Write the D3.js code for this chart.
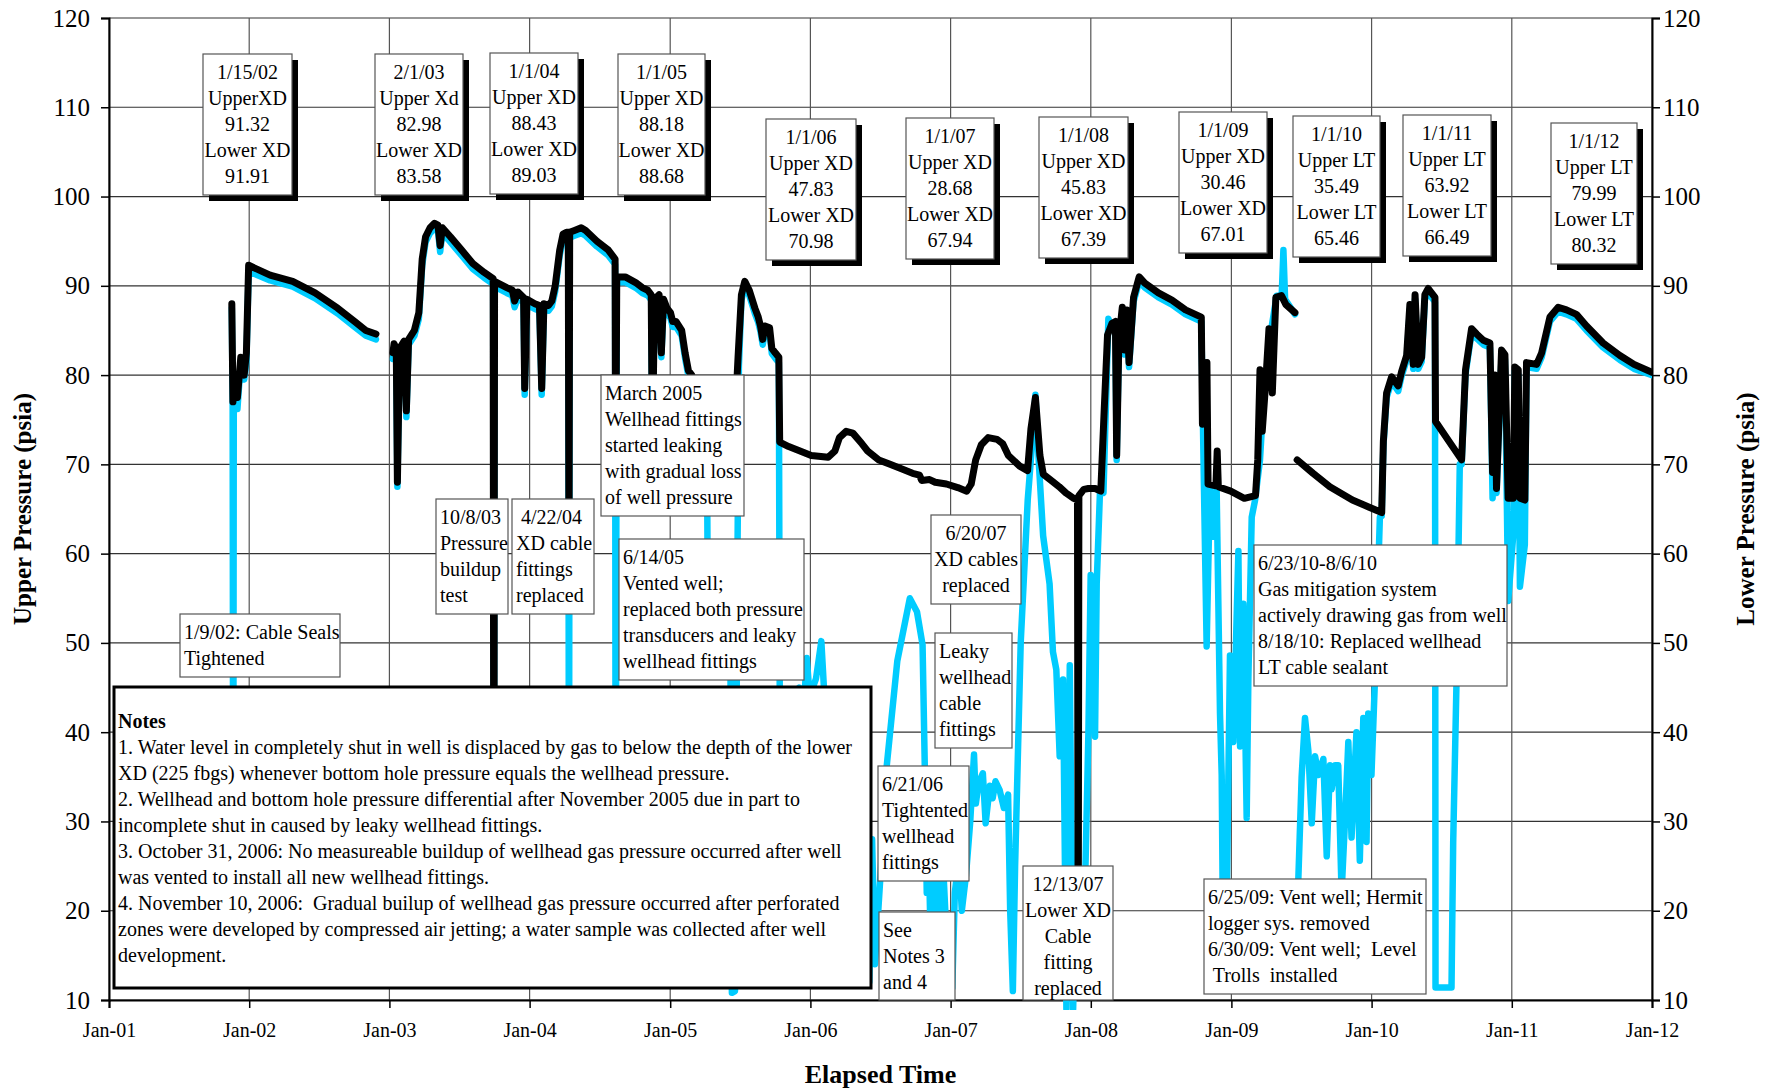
<!DOCTYPE html>
<html>
<head>
<meta charset="utf-8">
<script src="https://cdn.jsdelivr.net/npm/d3@7"></script>
<style>
  body { margin: 0; background: #fff; }
  svg { font-family: "Liberation Serif", "Times New Roman", serif; }
  text { white-space: pre; }
</style>
</head>
<body>
<svg id="chart" width="1767" height="1089"></svg>
<script>
// axis ticks
const yTicks = d3.range(10, 121, 10);
const xYears = d3.range(2001, 2013);

// Lower pressure (black), [decimal year, psia]; null = gap in record
const lowerXD = [
  [2001.876, 88.0], [2001.884, 77.0], [2001.900, 80.0], [2001.916, 77.5], [2001.940, 82.0], [2001.964, 80.0],
  [2001.980, 82.5], [2001.996, 92.3], [2002.149, 91.2], [2002.310, 90.5], [2002.470, 89.2], [2002.631, 87.5],
  [2002.752, 86.0], [2002.832, 85.0], [2002.904, 84.6],
  [2002.950, null],
  [2003.025, 82.5], [2003.033, 83.5], [2003.049, 83.0], [2003.057, 68.0], [2003.073, 83.0], [2003.105, 83.8],
  [2003.121, 76.0], [2003.137, 84.0], [2003.178, 85.0], [2003.210, 87.0], [2003.234, 93.0], [2003.258, 95.5],
  [2003.290, 96.5], [2003.322, 97.0], [2003.346, 96.8], [2003.362, 94.5], [2003.378, 96.5], [2003.435, 95.5],
  [2003.515, 94.0], [2003.595, 92.5], [2003.676, 91.5], [2003.740, 90.8], [2003.745, 15.0], [2003.750, 90.5],
  [2003.837, 89.8], [2003.877, 89.5], [2003.893, 88.3], [2003.917, 89.3], [2003.957, 88.7], [2003.965, 78.5],
  [2003.981, 88.5], [2004.037, 88.0], [2004.070, 87.8], [2004.086, 78.5], [2004.102, 88.0], [2004.134, 87.8],
  [2004.158, 88.3], [2004.182, 90.0], [2004.214, 94.0], [2004.238, 95.8], [2004.262, 96.0], [2004.275, 96.0],
  [2004.280, 58.0], [2004.285, 96.0], [2004.319, 96.2], [2004.367, 96.5], [2004.399, 96.2], [2004.479, 95.0],
  [2004.560, 94.0], [2004.608, 93.0], [2004.612, 66.0], [2004.620, 91.0], [2004.680, 91.0], [2004.761, 90.3],
  [2004.801, 89.8], [2004.841, 89.5], [2004.865, 89.0], [2004.873, 72.0], [2004.889, 88.5], [2004.921, 89.0],
  [2004.937, 82.5], [2004.953, 88.5], [2004.977, 87.5], [2005.002, 87.0], [2005.018, 86.0], [2005.042, 86.0],
  [2005.082, 85.0], [2005.106, 82.5], [2005.130, 80.5], [2005.154, 80.0], [2005.178, 76.0], [2005.300, 70.0],
  [2005.440, 68.0], [2005.484, 82.0], [2005.508, 89.0], [2005.532, 90.5], [2005.564, 89.5], [2005.604, 87.5],
  [2005.628, 86.5], [2005.644, 85.5], [2005.660, 84.0], [2005.676, 85.5], [2005.709, 85.3], [2005.725, 83.0],
  [2005.749, 82.5], [2005.775, 82.0], [2005.781, 72.5], [2005.845, 72.0], [2005.926, 71.5], [2006.006, 71.0],
  [2006.127, 70.8], [2006.175, 71.5], [2006.207, 73.0], [2006.255, 73.7], [2006.303, 73.5], [2006.368, 72.3],
  [2006.408, 71.5], [2006.488, 70.5], [2006.568, 70.0], [2006.649, 69.5], [2006.729, 69.0], [2006.778, 68.8],
  [2006.794, 68.2], [2006.850, 68.3], [2006.890, 68.0], [2006.970, 67.8], [2007.051, 67.4], [2007.115, 67.0],
  [2007.147, 67.8], [2007.179, 70.5], [2007.219, 72.2], [2007.268, 73.0], [2007.332, 72.8], [2007.372, 72.3],
  [2007.412, 71.0], [2007.493, 69.8], [2007.549, 69.3], [2007.573, 74.0], [2007.605, 77.5], [2007.637, 71.0],
  [2007.661, 68.9], [2007.709, 68.3], [2007.774, 67.5], [2007.822, 66.8], [2007.878, 66.2], [2007.905, 66.0],
  [2007.910, 11.5], [2007.915, 66.5], [2007.950, 67.2], [2007.983, 67.3], [2008.031, 67.3], [2008.071, 67.0],
  [2008.095, 76.0], [2008.119, 84.5], [2008.151, 85.8], [2008.175, 86.0], [2008.184, 71.0], [2008.200, 84.0],
  [2008.224, 87.6], [2008.240, 82.8], [2008.256, 87.3], [2008.272, 81.4], [2008.304, 88.7], [2008.344, 91.0],
  [2008.384, 90.3], [2008.481, 89.2], [2008.577, 88.4], [2008.674, 87.3], [2008.786, 86.5], [2008.794, 74.5],
  [2008.826, 81.4], [2008.834, 67.8], [2008.890, 67.6], [2008.899, 71.5], [2008.907, 67.5], [2008.995, 67.0],
  [2009.092, 66.2], [2009.172, 66.5], [2009.188, 70.5], [2009.204, 80.6], [2009.220, 73.7], [2009.244, 79.0],
  [2009.268, 85.2], [2009.292, 78.0], [2009.317, 88.7], [2009.357, 88.9], [2009.389, 87.9], [2009.453, 87.0],
  [2009.460, null],
  [2009.469, 70.5], [2009.582, 69.0], [2009.702, 67.5], [2009.863, 66.0], [2009.983, 65.2], [2010.072, 64.6],
  [2010.084, 72.6], [2010.107, 78.0], [2010.143, 79.8], [2010.190, 78.8], [2010.214, 80.4], [2010.250, 82.2],
  [2010.273, 87.9], [2010.297, 81.2], [2010.310, 89.0], [2010.333, 81.2], [2010.357, 82.0], [2010.380, 89.0],
  [2010.404, 89.7], [2010.452, 88.7], [2010.456, 74.8], [2010.642, 70.5], [2010.670, 80.6], [2010.713, 85.2],
  [2010.749, 84.6], [2010.797, 83.9], [2010.844, 83.6], [2010.863, 69.1], [2010.879, 80.0], [2010.891, 67.3],
  [2010.927, 82.8], [2010.951, 82.3], [2010.974, 66.2], [2011.010, 66.2], [2011.022, 80.9], [2011.046, 80.6],
  [2011.058, 66.2], [2011.093, 66.0], [2011.105, 81.4], [2011.177, 81.2], [2011.213, 82.5], [2011.272, 86.5],
  [2011.331, 87.6], [2011.390, 87.3], [2011.461, 86.8], [2011.533, 85.5], [2011.651, 83.6], [2011.771, 82.2],
  [2011.872, 81.2], [2012.000, 80.3]
];

// Upper pressure (cyan)
const upperXD = [
  [2001.876, 87.5], [2001.882, 76.5], [2001.886, 20.0], [2001.890, 76.5], [2001.900, 79.5], [2001.916, 76.2],
  [2001.940, 81.5], [2001.964, 79.5], [2001.980, 81.5], [2001.996, 91.6], [2002.149, 90.6], [2002.310, 89.9],
  [2002.470, 88.6], [2002.631, 86.9], [2002.752, 85.4], [2002.832, 84.4], [2002.904, 84.0],
  [2002.950, null],
  [2003.025, 81.8], [2003.033, 82.9], [2003.049, 82.4], [2003.057, 67.5], [2003.073, 82.4], [2003.105, 83.2],
  [2003.121, 75.3], [2003.137, 83.4], [2003.178, 84.4], [2003.210, 86.3], [2003.234, 92.3], [2003.258, 94.9],
  [2003.290, 95.9], [2003.322, 96.4], [2003.346, 96.2], [2003.362, 93.8], [2003.378, 95.9], [2003.435, 94.9],
  [2003.515, 93.4], [2003.595, 91.9], [2003.676, 90.9], [2003.740, 90.2], [2003.745, 15.0], [2003.750, 89.9],
  [2003.837, 89.2], [2003.877, 88.9], [2003.893, 87.6], [2003.917, 88.7], [2003.957, 88.1], [2003.965, 77.8],
  [2003.981, 87.9], [2004.037, 87.4], [2004.070, 87.2], [2004.086, 77.8], [2004.102, 87.4], [2004.134, 87.2],
  [2004.158, 87.7], [2004.182, 89.4], [2004.214, 93.4], [2004.238, 95.2], [2004.262, 95.4], [2004.275, 95.4],
  [2004.280, 20.0], [2004.285, 95.4], [2004.319, 95.6], [2004.367, 95.9], [2004.399, 95.6], [2004.479, 94.4],
  [2004.560, 93.4], [2004.608, 92.4], [2004.612, 20.0], [2004.620, 90.4], [2004.680, 90.4], [2004.761, 89.7],
  [2004.801, 89.2], [2004.841, 88.9], [2004.865, 88.4], [2004.873, 71.0], [2004.889, 87.9], [2004.921, 88.4],
  [2004.937, 82.0], [2004.953, 87.9], [2004.977, 86.9], [2005.002, 86.4], [2005.018, 85.4], [2005.042, 85.4],
  [2005.082, 84.4], [2005.106, 81.9], [2005.130, 79.9], [2005.154, 79.4], [2005.178, 75.4], [2005.230, 73.0],
  [2005.262, 72.0], [2005.270, 50.0], [2005.330, 48.0], [2005.430, 47.0], [2005.440, 10.8], [2005.462, 11.0],
  [2005.480, 60.0], [2005.490, 81.0], [2005.508, 88.4], [2005.532, 89.9], [2005.564, 88.9], [2005.604, 86.9],
  [2005.628, 85.9], [2005.644, 84.9], [2005.660, 83.4], [2005.676, 84.9], [2005.709, 84.7], [2005.725, 82.4],
  [2005.749, 81.9], [2005.775, 81.4], [2005.782, 40.0], [2005.840, 43.0], [2005.920, 45.0], [2005.950, 42.0],
  [2005.974, 48.3], [2005.995, 44.0], [2006.040, 46.0], [2006.078, 50.2], [2006.100, 44.0], [2006.140, 28.0],
  [2006.220, 18.0], [2006.320, 14.0], [2006.420, 12.0], [2006.440, 28.0], [2006.460, 14.0], [2006.500, 24.0],
  [2006.543, 36.0], [2006.620, 48.0], [2006.709, 55.0], [2006.760, 53.5], [2006.800, 49.8], [2006.816, 36.0],
  [2006.830, 22.0], [2006.845, 26.0], [2006.860, 15.0], [2006.875, 25.0], [2006.890, 19.0], [2006.910, 26.0],
  [2006.930, 18.0], [2006.950, 24.0], [2006.980, 14.0], [2007.012, 11.3], [2007.030, 22.0], [2007.060, 26.0],
  [2007.080, 20.0], [2007.110, 24.0], [2007.140, 30.0], [2007.167, 37.5], [2007.180, 32.0], [2007.200, 34.3],
  [2007.230, 35.4], [2007.250, 29.8], [2007.280, 34.0], [2007.300, 32.6], [2007.320, 34.5], [2007.350, 33.5],
  [2007.380, 31.5], [2007.410, 33.0], [2007.425, 20.0], [2007.444, 11.0], [2007.460, 25.0], [2007.500, 50.0],
  [2007.550, 66.0], [2007.580, 72.0], [2007.605, 77.8], [2007.630, 70.0], [2007.660, 62.0], [2007.706, 56.6],
  [2007.730, 49.0], [2007.754, 47.0], [2007.778, 37.3], [2007.802, 45.9], [2007.826, 9.0], [2007.850, 47.5],
  [2007.874, 9.0], [2007.900, 25.0], [2007.944, 12.0], [2007.983, 40.0], [2007.999, 57.6], [2008.030, 39.5],
  [2008.042, 56.6], [2008.066, 67.3], [2008.090, 66.8], [2008.125, 86.3], [2008.151, 85.3], [2008.175, 85.5],
  [2008.184, 70.5], [2008.200, 83.5], [2008.224, 87.1], [2008.240, 82.3], [2008.256, 86.8], [2008.272, 80.9],
  [2008.304, 88.2], [2008.344, 90.5], [2008.384, 89.8], [2008.481, 88.7], [2008.577, 87.9], [2008.674, 86.8],
  [2008.786, 86.0], [2008.805, 67.3], [2008.824, 49.6], [2008.847, 67.3], [2008.871, 61.9], [2008.895, 67.3],
  [2008.919, 42.1], [2008.931, 35.2], [2008.943, 12.0], [2008.966, 20.0], [2008.990, 48.6], [2009.014, 38.9],
  [2009.050, 60.3], [2009.062, 38.4], [2009.085, 54.4], [2009.109, 30.4], [2009.121, 45.9], [2009.145, 64.1],
  [2009.169, 66.0], [2009.204, 70.5], [2009.228, 76.9], [2009.256, 80.6], [2009.288, 85.5], [2009.323, 88.9],
  [2009.359, 88.9], [2009.371, 94.0], [2009.383, 88.5], [2009.454, 86.8],
  [2009.460, null],
  [2009.466, 18.0], [2009.501, 35.0], [2009.525, 41.6], [2009.549, 37.9], [2009.573, 29.8], [2009.597, 37.3],
  [2009.621, 35.2], [2009.656, 37.0], [2009.680, 26.1], [2009.703, 36.3], [2009.715, 33.6], [2009.739, 36.3],
  [2009.762, 36.3], [2009.786, 22.0], [2009.810, 30.0], [2009.834, 38.9], [2009.857, 28.2], [2009.892, 40.0],
  [2009.916, 25.6], [2009.941, 41.6], [2009.964, 27.7], [2009.976, 42.1], [2009.999, 35.2], [2010.024, 45.9],
  [2010.059, 64.1], [2010.072, 64.2], [2010.084, 72.0], [2010.107, 77.5], [2010.143, 79.3], [2010.190, 78.2],
  [2010.214, 79.9], [2010.250, 81.7], [2010.273, 87.4], [2010.297, 80.7], [2010.310, 88.5], [2010.333, 80.7],
  [2010.357, 81.5], [2010.380, 88.5], [2010.404, 89.2], [2010.452, 88.2], [2010.456, 11.4], [2010.570, 11.4],
  [2010.582, 27.7], [2010.606, 45.9], [2010.629, 70.0], [2010.642, 70.0], [2010.670, 80.1], [2010.713, 84.7],
  [2010.749, 84.1], [2010.797, 83.4], [2010.844, 83.1], [2010.863, 66.2], [2010.879, 79.5], [2010.891, 66.8],
  [2010.927, 82.3], [2010.951, 81.8], [2010.974, 54.7], [2011.010, 62.0], [2011.022, 80.4], [2011.046, 80.1],
  [2011.058, 56.3], [2011.093, 61.0], [2011.105, 80.9], [2011.177, 80.7], [2011.213, 82.0], [2011.272, 86.0],
  [2011.331, 87.1], [2011.390, 86.8], [2011.461, 86.3], [2011.533, 85.0], [2011.651, 83.1], [2011.771, 81.7],
  [2011.872, 80.7], [2012.000, 80.0]
];

// yearly readings boxes
const readingLabels = [
  ["1/15/02", "UpperXD", "91.32", "Lower XD", "91.91"],
  ["2/1/03", "Upper Xd", "82.98", "Lower XD", "83.58"],
  ["1/1/04", "Upper XD", "88.43", "Lower XD", "89.03"],
  ["1/1/05", "Upper XD", "88.18", "Lower XD", "88.68"],
  ["1/1/06", "Upper XD", "47.83", "Lower XD", "70.98"],
  ["1/1/07", "Upper XD", "28.68", "Lower XD", "67.94"],
  ["1/1/08", "Upper XD", "45.83", "Lower XD", "67.39"],
  ["1/1/09", "Upper XD", "30.46", "Lower XD", "67.01"],
  ["1/1/10", "Upper LT", "35.49", "Lower LT", "65.46"],
  ["1/1/11", "Upper LT", "63.92", "Lower LT", "66.49"],
  ["1/1/12", "Upper LT", "79.99", "Lower LT", "80.32"]
];

const eventLabels = [
  ["1/9/02: Cable Seals", "Tightened"],
  ["10/8/03", "Pressure", "buildup", "test"],
  [" 4/22/04", "XD cable", "fittings", "replaced"],
  ["March 2005", "Wellhead fittings", "started leaking", "with gradual loss", "of well pressure"],
  ["6/14/05", "Vented well;", "replaced both pressure", "transducers and leaky", "wellhead fittings"],
  ["6/20/07", "XD cables", "replaced"],
  ["Leaky", "wellhead", "cable", "fittings"],
  ["6/21/06", "Tightented", "wellhead", "fittings"],
  ["See", "Notes 3", "and 4"],
  ["12/13/07", "Lower XD", "Cable", "fitting", "replaced"],
  ["6/25/09: Vent well; Hermit", "logger sys. removed", "6/30/09: Vent well;  Level", " Trolls  installed"],
  ["6/23/10-8/6/10", "Gas mitigation system", "actively drawing gas from well", "8/18/10: Replaced wellhead", "LT cable sealant"]
];

const notesLines = [
  "1. Water level in completely shut in well is displaced by gas to below the depth of the lower",
  "XD (225 fbgs) whenever bottom hole pressure equals the wellhead pressure.",
  "2. Wellhead and bottom hole pressure differential after November 2005 due in part to",
  "incomplete shut in caused by leaky wellhead fittings.",
  "3. October 31, 2006: No measureable buildup of wellhead gas pressure occurred after well",
  "was vented to install all new wellhead fittings.",
  "4. November 10, 2006:  Gradual builup of wellhead gas pressure occurred after perforated",
  "zones were developed by compressed air jetting; a water sample was collected after well",
  "development."
];

// layout (pixels)
const readingPos = [
  [203, 54, 89], [375, 54, 88], [490, 53, 88], [618, 54, 87], [766, 119, 90], [906, 118, 88],
  [1039, 117, 89], [1179, 112, 88], [1293, 116, 87], [1403, 115, 88], [1551, 123, 86]
];
const eventPos = [
  {x: 180, y: 614, w: 160}, {x: 436, y: 499, w: 72}, {x: 512, y: 499, w: 82},
  {x: 601, y: 375, w: 143}, {x: 619, y: 539, w: 185}, {x: 931, y: 515, w: 90, center: true},
  {x: 935, y: 633, w: 77}, {x: 878, y: 766, w: 91}, {x: 879, y: 912, w: 76, h: 88},
  {x: 1023, y: 866, w: 90, h: 134, center: true}, {x: 1204, y: 879, w: 222}, {x: 1254, y: 545, w: 253}
];

const m = {left: 109, right: 1652, top: 18, bottom: 1000};
const LH = 26;

const toDate = yr => {
  const y0 = Math.floor(yr);
  const a = Date.UTC(y0, 0, 1), b = Date.UTC(y0 + 1, 0, 1);
  return new Date(a + (yr - y0) * (b - a));
};

const svg = d3.select("#chart");

const x = d3.scaleUtc().domain([toDate(2001), toDate(2012)]).range([m.left, m.right]);
const y = d3.scaleLinear().domain([10, 120]).range([m.bottom, m.top]);

// grid
svg.append("g").selectAll("line").data(yTicks).join("line")
  .attr("x1", m.left).attr("x2", m.right)
  .attr("y1", d => y(d)).attr("y2", d => y(d))
  .attr("stroke", "#333").attr("stroke-width", 1.2);
svg.append("g").selectAll("line").data(xYears).join("line")
  .attr("x1", d => x(toDate(d))).attr("x2", d => x(toDate(d)))
  .attr("y1", m.top).attr("y2", m.bottom)
  .attr("stroke", "#555").attr("stroke-width", 1.2);

// axes
const fmt = d3.utcFormat("%b-%y");
const yl = svg.append("g").attr("transform", `translate(${m.left},0)`)
  .call(d3.axisLeft(y).tickValues(yTicks).tickSize(8).tickPadding(11));
const yr = svg.append("g").attr("transform", `translate(${m.right},0)`)
  .call(d3.axisRight(y).tickValues(yTicks).tickSize(8).tickPadding(3));
const xa = svg.append("g").attr("transform", `translate(0,${m.bottom})`)
  .call(d3.axisBottom(x).tickValues(xYears.map(toDate)).tickFormat(fmt).tickSize(8).tickPadding(15));
[yl, yr, xa].forEach(g => {
  g.select(".domain").attr("stroke", "#000").attr("stroke-width", 2);
  g.selectAll(".tick line").attr("stroke", "#000").attr("stroke-width", 1.5);
  g.selectAll("text").attr("fill", "#000").style("font-family", "Liberation Serif");
});
yl.selectAll("text").style("font-size", "25px");
yr.selectAll("text").style("font-size", "25px");
xa.selectAll("text").style("font-size", "20px");

// series
svg.append("defs").append("clipPath").attr("id", "plot")
  .append("rect").attr("x", m.left).attr("y", m.top)
  .attr("width", m.right - m.left).attr("height", m.bottom - m.top + 10);

const line = d3.line()
  .defined(d => d[1] != null)
  .x(d => x(toDate(d[0])))
  .y(d => y(d[1]));

const series = svg.append("g").attr("clip-path", "url(#plot)");
series.append("path").datum(upperXD).attr("d", line)
  .attr("fill", "none").attr("stroke", "#00CCFF").attr("stroke-width", 6.5)
  .attr("stroke-linejoin", "round").attr("stroke-linecap", "round");
series.append("path").datum(lowerXD).attr("d", line)
  .attr("fill", "none").attr("stroke", "#000").attr("stroke-width", 7)
  .attr("stroke-linejoin", "round").attr("stroke-linecap", "round");

// annotation boxes
function box(lines, p, shadow) {
  const h = p.h || lines.length * LH + 11;
  const g = svg.append("g");
  if (shadow) {
    g.append("rect").attr("x", p.x + 6).attr("y", p.y + 6)
      .attr("width", p.w).attr("height", h).attr("fill", "#000");
  }
  g.append("rect").attr("x", p.x).attr("y", p.y).attr("width", p.w).attr("height", h)
    .attr("fill", "#fff").attr("stroke", "#555").attr("stroke-width", 1.2);
  g.selectAll("text").data(lines).join("text")
    .attr("x", p.center ? p.x + p.w / 2 : p.x + 4)
    .attr("y", (d, i) => p.y + 18 + i * LH)
    .attr("dy", "0.35em")
    .attr("text-anchor", p.center ? "middle" : "start")
    .style("font-size", "20px")
    .text(d => d);
}

readingLabels.forEach((lines, i) => {
  const [bx, by, bw] = readingPos[i];
  box(lines, {x: bx, y: by, w: bw, center: true}, true);
});
eventLabels.forEach((lines, i) => box(lines, eventPos[i], false));

// notes
const notes = svg.append("g");
notes.append("rect").attr("x", 114).attr("y", 687).attr("width", 757).attr("height", 301)
  .attr("fill", "#fff").attr("stroke", "#000").attr("stroke-width", 3);
notes.append("text").attr("x", 118).attr("y", 721).attr("dy", "0.35em")
  .style("font-size", "20px").style("font-weight", "bold").text("Notes");
notes.selectAll("text.n").data(notesLines).join("text").attr("class", "n")
  .attr("x", 118).attr("y", (d, i) => 747 + i * LH).attr("dy", "0.35em")
  .style("font-size", "20px").text(d => d);

// axis titles
svg.append("text").attr("x", (m.left + m.right) / 2).attr("y", 1083)
  .attr("text-anchor", "middle").style("font-size", "26px").style("font-weight", "bold")
  .text("Elapsed Time");
svg.append("text").attr("transform", `translate(31,${(m.top + m.bottom) / 2}) rotate(-90)`)
  .attr("text-anchor", "middle").style("font-size", "25px").style("font-weight", "bold")
  .text("Upper Pressure (psia)");
svg.append("text").attr("transform", `translate(1754,${(m.top + m.bottom) / 2}) rotate(-90)`)
  .attr("text-anchor", "middle").style("font-size", "25px").style("font-weight", "bold")
  .text("Lower Pressure (psia)");
</script>
</body>
</html>
